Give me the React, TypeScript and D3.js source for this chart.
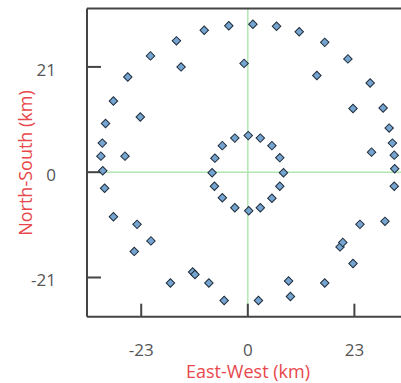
import React from "react";
import * as d3 from "d3";

const eastWest: number[] = [
  -15.4, -21.0, -14.4, -25.9, -29.0, -23.2, -30.7, -31.4, -31.7, -26.5, -31.3, -30.9,
  -29.0, -23.9, -20.9, -24.5, -16.7, -11.9, -11.4, -8.4, -5.1, 2.3, 8.8, 9.2,
  16.6, 22.7, 19.9, 20.5, 24.2, 29.6, 31.6, 31.7, 31.6, 26.7, 31.2, 30.5,
  22.7, 29.2, 26.4, 21.6, 16.6, 14.9, 11.1, 6.2, 1.1, -4.1, -9.4, -0.8,
  0.1, -2.8, 2.7, -5.5, 5.2, -7.1, 6.9, -7.7, 7.7, -7.2, 6.9, -5.5, 5.2, -2.8, 2.7, 0.2,
];
const northSouth: number[] = [
  26.2, 23.2, 21.0, 19.0, 14.2, 11.0, 9.7, 5.8, 3.2, 3.2, 0.3, -3.2,
  -8.9, -10.4, -13.7, -15.8, -22.1, -19.9, -20.4, -22.1, -25.6, -25.6, -21.7, -24.8,
  -22.1, -18.2, -14.9, -14.0, -10.4, -9.8, -2.8, 0.7, 3.4, 4.0, 5.8, 8.8,
  12.7, 12.8, 17.8, 22.6, 25.9, 19.3, 28.0, 29.1, 29.5, 29.2, 28.3, 21.7,
  7.3, 6.8, 6.8, 5.3, 5.3, 2.8, 2.9, -0.1, -0.1, -2.8, -2.8, -5.1, -5.2, -7.1, -7.1, -7.7,
];
const xTicks: number[] = [-23, 0, 23];
const yTicks: number[] = [-21, 0, 21];
const xTitle = "East-West (km)";
const yTitle = "North-South (km)";

export default function App() {
  const W = 401;
  const H = 383;
  const left = 87;
  const right = 410;
  const top = 8.5;
  const bottom = 316.7;
  const x = d3.scaleLinear().domain([-34.7, 35]).range([left, right]);
  const y = d3.scaleLinear().domain([-28.82, 32.65]).range([bottom, top]);
  const diamond = d3.symbol(d3.symbolSquare, 36)()!;
  const pts = eastWest.map((e, i) => ({ e, n: northSouth[i] }));
  const font = "'Open Sans', 'Noto Sans', sans-serif";
  const axisColor = "#444";
  const gridColor = "#b2e6b2";
  return (
    <div style={{ position: "absolute", left: 0, top: 0 }}>
      <svg width={W} height={H} style={{ display: "block", background: "#fff" }}>
        <line x1={x(0)} x2={x(0)} y1={top} y2={bottom} stroke={gridColor} strokeWidth={1.5} />
        <line x1={left} x2={right} y1={y(0)} y2={y(0)} stroke={gridColor} strokeWidth={1.5} />
        <line x1={left} x2={right} y1={top} y2={top} stroke={axisColor} strokeWidth={2} />
        <line x1={left} x2={left} y1={top} y2={bottom} stroke={axisColor} strokeWidth={2} />
        <line x1={left} x2={right} y1={bottom} y2={bottom} stroke={axisColor} strokeWidth={2} />
        {xTicks.map((t) => (
          <g key={"x" + t}>
            <line x1={x(t)} x2={x(t)} y1={bottom} y2={bottom - 13} stroke={axisColor} strokeWidth={2} />
            <text x={x(t)} y={356} textAnchor="middle" fontSize={17} fill="#555" fontFamily={font}>
              {t}
            </text>
          </g>
        ))}
        {yTicks.map((t) => (
          <g key={"y" + t}>
            <line x1={left} x2={left + 14} y1={y(t)} y2={y(t)} stroke={axisColor} strokeWidth={2} />
            <text x={56} y={y(t) + 3} dy="0.35em" textAnchor="end" fontSize={17} fill="#555" fontFamily={font}>
              {t}
            </text>
          </g>
        ))}
        {pts.map((p, i) => (
          <path
            key={i}
            d={diamond}
            transform={`translate(${x(p.e)},${y(p.n)}) rotate(45)`}
            fill="#74a4cf"
            stroke="#1e2b3a"
            strokeWidth={1}
          />
        ))}
        <text x={248} y={378} textAnchor="middle" fontSize={18} fill="#e8474b" fontFamily={font}>
          {xTitle}
        </text>
        <text
          transform={`translate(32,163) rotate(-90)`}
          textAnchor="middle"
          fontSize={18}
          fill="#e8474b"
          fontFamily={font}
        >
          {yTitle}
        </text>
      </svg>
    </div>
  );
}
